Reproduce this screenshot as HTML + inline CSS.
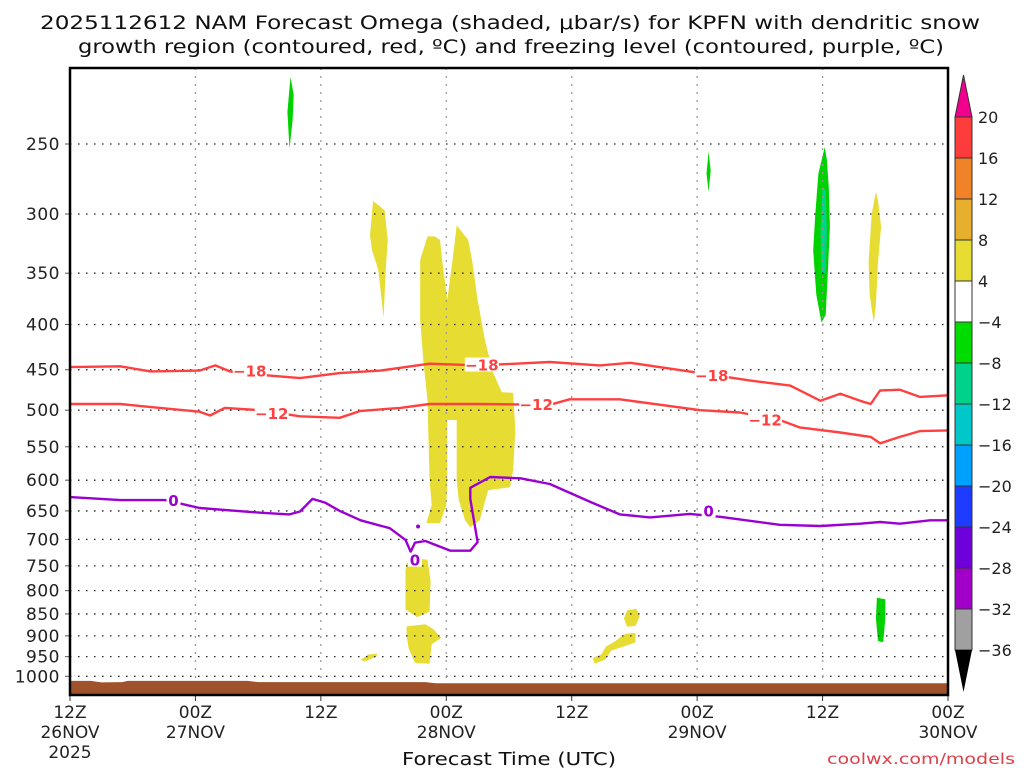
<!DOCTYPE html>
<html><head><meta charset="utf-8"><style>
html,body{margin:0;padding:0;background:#fff;width:1024px;height:768px;overflow:hidden}
svg{display:block;font-family:"DejaVu Sans","Liberation Sans",sans-serif}
</style></head><body>
<svg id="chart" width="1024" height="768" viewBox="0 0 1024 768" xmlns="http://www.w3.org/2000/svg">
<text x="40" y="29" textLength="940" lengthAdjust="spacingAndGlyphs" font-size="19" fill="#111">2025112612 NAM Forecast Omega (shaded, μbar/s) for KPFN with dendritic snow</text>
<text x="78" y="53" textLength="866" lengthAdjust="spacingAndGlyphs" font-size="19" fill="#111">growth region (contoured, red, ºC) and freezing level (contoured, purple, ºC)</text>
<text x="402" y="765" textLength="214" lengthAdjust="spacingAndGlyphs" font-size="18" fill="#111">Forecast Time (UTC)</text>
<text x="827" y="764" textLength="188" lengthAdjust="spacingAndGlyphs" font-size="15" fill="#e0404a">coolwx.com/models</text>
<g id="plot"></g>
</svg>
<script>
// ---- data ----
const pressureLevels = [250,300,350,400,450,500,550,600,650,700,750,800,850,900,950,1000];
const timeTicks = [0,12,24,36,48,60,72,84];
const timeTickLabels = [["12Z","26NOV","2025"],["00Z","27NOV"],["12Z"],["00Z","28NOV"],["12Z"],["00Z","29NOV"],["12Z"],["00Z","30NOV"]];
const surfHours = [0,2,3,5,5.5,17,18,34,35,84];
const surfPres  = [1012,1012,1016,1015,1012,1012,1015,1015,1018,1018];
const iso18Hours = [0,4.8,7.7,12.4,13.9,15.3,18.2,22,25.8,29.7,34.4,39.2,45.9,50.7,53.6,60.3,65.1,68.9,71.8,73.7,75.6,76.6,77.5,79.4,81.3,84];
const iso18Pres  = [447,446,452,451,445,452,456,460,454,451,443,445,441,445,442,454,463,469,488,479,488,492,475,474,483,481];
const iso12Hours = [0,4.8,8.6,12.4,13.4,14.8,18.2,22,25.8,27.8,31.6,34.4,39.2,45.9,47.8,52.6,60.3,64.1,67.9,69.8,73.7,76.6,77.5,79.4,81.3,84];
const iso12Pres  = [492,492,497,502,507,497,500,508,510,501,497,492,492,493,486,486,500,503,513,523,530,536,545,536,528,527];
const iso0Hours = [0,4.8,9.1,12.4,18.2,21,22,23.2,24.4,25.8,27.8,30.6,32.1,32.6,33,34,36.4,38.3,39.0,38.3,38.3,40.2,43.1,45.9,49.8,52.6,55.5,59.3,62.2,67.9,71.8,75.6,77.5,79.4,82.3,84];
const iso0Pres  = [627,632,632,645,653,656,651,630,636,650,666,680,701,723,706,703,721,721,705,630,612,595,597,606,635,656,661,655,660,674,676,672,669,672,666,666];
const isoLabels = [["-18",17.2,451],["-18",39.4,444],["-18",61.4,456],["-12",19.3,504],["-12",44.6,492],["-12",66.5,512],["0",9.9,632],["0",33.0,738],["0",61.1,649]];
const omegaCats = {pos4:"#e6dc32", neg4:"#00d200", neg8:"#00d28c"};
const omegaRegions = [
 ["pos4",[34.2,33.5,33.5,33.8,34.2,34.3,34.4,34.6,34.1,35.4,36.0,36.1,36.1,37.0,37.0,37.2,37.8,38.3,39.2,40.0,42.1,42.4,42.6,42.4,41.3,40.5,39.7,39.0,38.5,38.1,37.0,36.6,36.1,35.6,35.4,34.9],
         [318,338,395,439,487,540,600,640,671,671,640,600,513,513,600,632,666,678,666,616,611,584,527,478,477,454,417,375,340,321,309,338,375,338,321,318]],
 ["pos4",[29.0,28.7,28.9,29.5,30.0,30.2,30.4,30.1],[290,317,330,347,393,347,321,297]],
 ["pos4",[32.2,32.9,34.2,34.5,34.4,33.2,32.1,32.1],[745,735,738,780,845,857,840,760]],
 ["pos4",[32.2,34.0,34.8,35.5,34.6,34.4,33.0,32.4,32.2],[878,873,885,905,920,968,965,930,900]],
 ["pos4",[27.8,28.5,29.4,29.3,28.2],[958,945,943,950,962]],
 ["pos4",[53.3,54.2,54.5,54.1,53.3,53.0],[842,839,855,877,879,860]],
 ["pos4",[53.2,54.1,54.1,53.0,51.8,51.2,50.2,50.0,50.8,51.3,52.2,52.8],[895,893,915,925,935,957,968,953,945,925,912,900]],
 ["pos4",[77.1,76.7,76.4,76.5,76.9,77.1,77.3,77.6,77.3],[283,300,340,370,398,380,340,310,290]],
 ["neg4",[72.2,71.6,71.3,71.1,71.4,71.9,72.3,72.5,72.7,72.6,72.4],[252,270,300,330,370,398,390,350,310,280,260]],
 ["neg8",[72.0,71.8,71.9,72.3,72.4,72.3],[280,315,350,350,315,282]],
 ["neg4",[21.1,20.8,21.0,21.3,21.4],[210,230,253,235,220]],
 ["neg4",[61.1,60.9,61.1,61.3],[255,270,283,268]],
 ["neg4",[77.2,78.0,78.0,77.8,77.3,77.1],[815,818,860,915,912,860]]
];
const cbLabels = ["20","16","12","8","4","-4","-8","-12","-16","-20","-24","-28","-32","-36"];
const cbColors = ["#ff3c3c","#f08228","#e6af2d","#e6dc32","#ffffff","#00dc00","#00d28c","#00c8c8","#00a0ff","#1e3cff","#6e00dc","#a000c8","#a0a0a0"];

// ---- axes ----
const X0=70, X1=948, Y0=68, Y1=695;
const xs = h => X0 + (X1-X0)*h/84;
const ys = p => 144 + 384*Math.log(p/250);
const NS="http://www.w3.org/2000/svg";
const g=document.getElementById('plot');
function mk(tag,attrs,parent){const e=document.createElementNS(NS,tag);for(const k in attrs)e.setAttribute(k,attrs[k]);(parent||g).appendChild(e);return e;}

omegaRegions.forEach((r,i)=>{
  const pts=r[1].map((h,j)=>xs(h).toFixed(1)+","+ys(r[2][j]).toFixed(1)).join(" ");
  const e=mk('polygon',{points:pts,fill:omegaCats[r[0]]});
  
  
});
pressureLevels.forEach(p=>{
  const y=ys(p);
  const l=mk('line',{x1:X0,x2:X1,y1:y,y2:y,stroke:"#222","stroke-width":1.3,"stroke-dasharray":"1.5 6.5"});
  
  
  const t=mk('text',{x:X0-10,y:y+6,"text-anchor":"end","font-size":17,fill:"#222","letter-spacing":"0.5"});
  t.textContent=p;
  
  
  mk('line',{x1:X0-5,x2:X0,y1:y,y2:y,stroke:"#555"});
});
timeTicks.forEach((h,i)=>{
  const x=xs(h);
  if(i>0&&i<timeTicks.length-1){
    const l=mk('line',{x1:x,x2:x,y1:Y0,y2:Y1,stroke:"#999","stroke-width":1.3,"stroke-dasharray":"2 6"});
    
    
  }
  mk('line',{x1:x,x2:x,y1:Y1,y2:Y1+6,stroke:"#333"});
  timeTickLabels[i].forEach((s,k)=>{
    const t=mk('text',{x:x,y:718+k*20,"text-anchor":"middle","font-size":17,fill:"#222"});
    t.textContent=s;
    
    
  });
});
{
  let d="M"+xs(surfHours[0])+","+Y1;
  surfHours.forEach((h,i)=>{d+=" L"+xs(h).toFixed(1)+","+ys(surfPres[i]).toFixed(1);});
  d+=" L"+xs(84)+","+Y1+" Z";
  const e=mk('path',{d:d,fill:"#a0522d"});
  
  
}
function line(hs,ps,col,name){
  const pts=hs.map((h,i)=>xs(h).toFixed(1)+","+ys(ps[i]).toFixed(1)).join(" ");
  const e=mk('polyline',{points:pts,fill:"none",stroke:col,"stroke-width":2.4,"stroke-linejoin":"round"});
  
  
}
line(iso18Hours,iso18Pres,"#ff4040","contour-minus18");
line(iso12Hours,iso12Pres,"#ff4040","contour-minus12");
line(iso0Hours,iso0Pres,"#9b00d2","freezing-level-contour");
isoLabels.forEach(l=>{
  const col=l[0]==="0"?"#9b00d2":"#ff4040";
  const x=xs(l[1]),y=ys(l[2]);
  const w=l[0].length*10+4;
  mk('rect',{x:x-w/2,y:y-7,width:w,height:14,fill:"#fff"});
  const t=mk('text',{x:x,y:y+6,"text-anchor":"middle","font-size":15,"font-weight":"bold",fill:col});
  t.textContent=l[0].replace("-","−");
  
  
});
{const d=mk('circle',{cx:xs(33.3),cy:ys(677),r:2,fill:"#9b00d2"});

}
{const f=mk('rect',{x:X0,y:Y0,width:X1-X0,height:Y1-Y0,fill:"none",stroke:"#000","stroke-width":2.5});

}
{
  const cg=mk('g',{});
  
  
  const cx0=955,cw=17,top=117,step=41;
  mk('polygon',{points:`${cx0},${top} ${cx0+cw},${top} ${cx0+cw/2},${top-42}`,fill:"#f0008c",stroke:"#333"},cg);
  cbColors.forEach((c,i)=>{
    const r=mk('rect',{x:cx0,y:top+i*step,width:cw,height:step,fill:c,stroke:"#333","stroke-width":1},cg);
    
    
  });
  const bot=top+cbColors.length*step;
  mk('polygon',{points:`${cx0},${bot} ${cx0+cw},${bot} ${cx0+cw/2},${bot+42}`,fill:"#000"},cg);
  cbLabels.forEach((s,i)=>{
    const t=mk('text',{x:978,y:top+i*step+6,"font-size":16,fill:"#222"},cg);
    t.textContent=s.replace("-","−");
    
    
  });
}
</script>
</body></html>
